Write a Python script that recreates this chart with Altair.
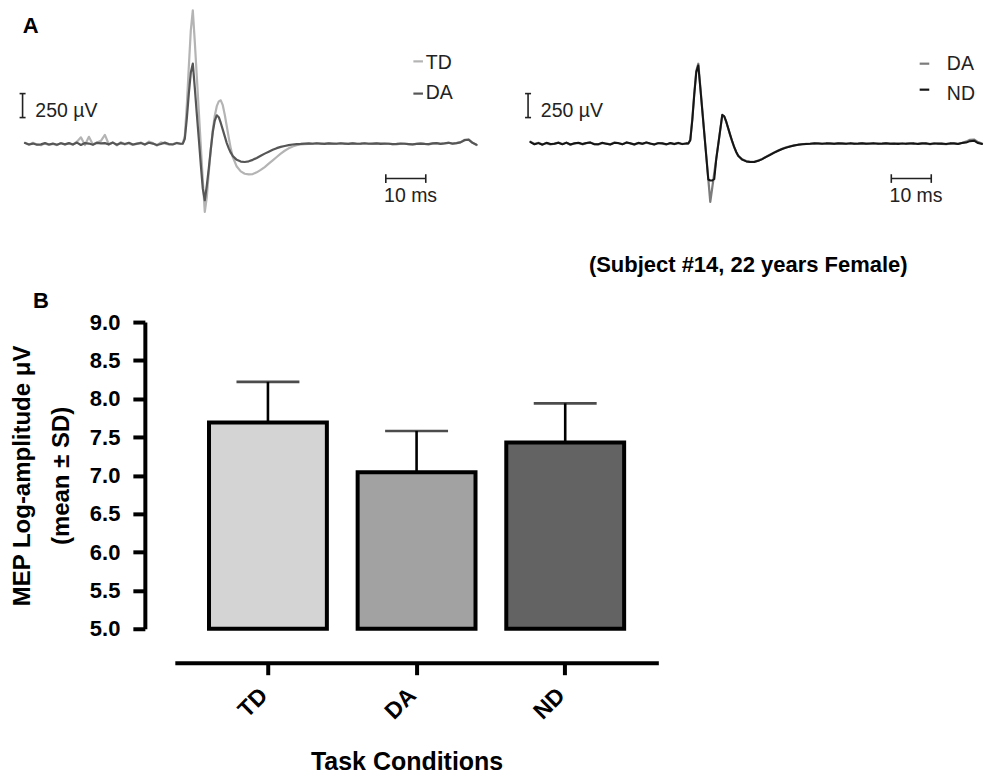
import altair as alt
import pandas as pd

FONT = "Liberation Sans"

# ---------------- Panel A: MEP traces (time in ms, amplitude in µV) ----------------
time_ms = [0, 1, 2, 3, 4, 5, 6, 7, 8, 9, 10, 11, 12, 13, 14, 15, 16, 17, 18, 19,
           20, 21, 22, 23, 24, 25, 26, 27, 28, 29, 30, 31, 32, 33, 34, 35, 36, 37, 38, 39,
           39.5, 40, 40.5, 41, 41.5, 42, 42.5, 43, 43.5, 44, 44.5, 45, 45.5, 46, 46.5,
           47, 47.5, 48, 48.5, 49, 49.5, 50, 50.5, 51, 51.5, 52,
           53, 54, 55, 56, 57, 58, 59, 60, 61, 62, 63, 64, 65, 66, 67, 68, 69, 70, 71, 72,
           73, 74, 75, 76, 77, 78, 79, 80, 81, 82, 83, 84, 85, 86, 87, 88, 89, 90, 91, 92,
           93, 94, 95, 96, 97, 98, 99, 100, 101, 102, 103, 104, 105, 106, 107, 108, 109,
           110, 111, 112, 113]

td_left = [10, -12, 8, -10, -18, 2, -14, -4, -16, 6, -10, 2, -12, 20, 65, -15, 70, -10, 12, 28,
           90, -10, 12, -18, 15, -10, 2, -15, -5, 12, -12, 20, 5, -22, 12, 0, -10, -5, 8, -5,
           0, 80, 400, 800, 1180, 1389, 1060, 700, 340, -20, -380, -713, -560, -300, -60,
           140, 290, 390, 440, 451, 400, 300, 180, 60, -50, -140,
           -240, -290, -315, -322, -318, -300, -275, -245, -210, -175, -140, -105, -75, -50, -30, -18, -10, -5, -3, 0,
           2, -2, 0, 3, -2, 0, 2, -3, 0, 4, 0, -3, 2, 0, -4, 2, 3, -2, 0, -5,
           -8, -2, 0, -6, -10, -4, 2, -3, -8, 0, 5, -4, 3, 10, -2, 5, 15, 40, 45, 10, -15]

da_left = [5, -10, 0, -12, -8, 5, -10, 0, -12, 3, -8, 5, -10, 10, -15, 5, 0, -12, 8, 2,
           5, -8, 10, -12, 5, -5, 8, -10, 0, 5, -10, 8, 0, -15, -5, 10, -5, -10, 5, -2,
           0, 50, 260, 520, 740, 833, 580, 310, 50, -220, -470, -591, -440, -260, -60,
           120, 240, 295, 275, 215, 145, 75, 5, -50, -95, -130,
           -170, -188, -192, -185, -170, -150, -128, -105, -85, -65, -48, -35, -25, -17, -10, -5, -3, 0, 2, -2,
           3, 0, -3, 2, 0, -2, 3, 0, -3, 2, -2, 0, 3, -2, 0, 2, -3, 0, -2, -6,
           -4, 0, -2, -5, -8, -3, 0, -4, -6, 2, 4, -3, 2, 8, 0, 4, 12, 35, 40, 8, -12]

da_right = [20, -5, 8, -10, 5, -8, 0, 10, -5, 8, -12, 0, 6, -8, 4, 12, -5, -10, 5, 0,
            -8, 10, 3, -6, 12, 0, -8, 5, -4, 10, -2, -8, 6, 0, -10, 4, -6, 8, -4, 0,
            0, 40, 255, 525, 760, 833, 593, 353, 112, -128, -368, -608, -458, -307, -156,
            -6, 145, 295, 280, 225, 155, 85, 20, -40, -90, -130,
            -165, -183, -191, -190, -178, -160, -138, -115, -93, -73, -55, -40, -28, -19, -12, -7, -4, -2, 0, 3,
            -2, 0, 2, -3, 0, 2, -2, 3, 0, -3, 2, 0, -2, 3, 0, -4, 2, 0, -3, 2,
            -2, 0, 3, -3, 0, 4, -2, -5, 0, 3, -4, -6, 0, 5, -3, 8, 20, 40, 42, 15, 0]

nd_right = [15, -8, 5, -12, 8, -5, -2, 8, -8, 10, -10, 3, 8, -5, 6, 10, -8, -6, 8, -3,
            -10, 8, 5, -8, 10, 3, -10, 8, -2, 12, 0, -10, 4, 3, -8, 6, -4, 5, -6, 2,
            0, 35, 245, 515, 745, 815, 585, 345, 105, -135, -375, -385, -385, -370, -160,
            -8, 145, 300, 285, 228, 158, 88, 22, -38, -88, -128,
            -168, -186, -193, -192, -180, -162, -140, -117, -95, -75, -57, -42, -30, -20, -13, -8, -5, -2, 2, 0,
            -3, 2, 0, -2, 3, 0, -3, 2, -2, 0, 3, -3, 0, 2, -3, 0, 4, -2, 0, -4,
            2, -3, 0, 2, -5, 0, 3, -4, 2, -3, 0, -5, 2, 0, -4, 5, 10, 25, 30, 5, -5]

for s in (td_left, da_left, da_right, nd_right):
    assert len(s) == len(time_ms)

trace_colors = {"TD": "#b4b4b4", "DA_left": "#565656", "DA_right": "#7c7c7c", "ND": "#151515"}

# scale bars (µV / ms)
amp_bar_uv = [271, 521]      # 250 µV
time_bar_ms = [90.3, 100.3]  # 10 ms

# ---------------- Panel B: MEP log-amplitude ----------------
conditions = ["TD", "DA", "ND"]
mep_mean = [7.69, 7.04, 7.43]
mep_upper = [8.22, 7.58, 7.94]
bar_fill = ["#d4d4d4", "#a2a2a2", "#636363"]
y_ticks = [5.0, 5.5, 6.0, 6.5, 7.0, 7.5, 8.0, 8.5, 9.0]

# ---------------- helpers ----------------
xs = alt.Scale(domain=[-5.5, 113], nice=False, zero=False)
ys = alt.Scale(domain=[-1424, 1493], nice=False, zero=False)
one = pd.DataFrame({"k": [0]})


def X(d):
    return alt.X(datum=d, scale=xs, axis=None)


def Y(d):
    return alt.Y(datum=d, scale=ys, axis=None)


def trace(values, color, width=2.2):
    df = pd.DataFrame({"t": time_ms, "v": values})
    return alt.Chart(df).mark_line(color=color, strokeWidth=width, strokeJoin="round",
                                   strokeCap="round").encode(
        x=alt.X("t:Q", scale=xs, axis=None),
        y=alt.Y("v:Q", scale=ys, axis=None),
    )


def vrule(t, v0, v1, color="#222222", w=1.6):
    return alt.Chart(one).mark_rule(color=color, strokeWidth=w).encode(
        x=X(t), y=Y(v0), y2=alt.Y2(datum=v1))


def hrule(t0, t1, v, color="#222222", w=1.6):
    return alt.Chart(one).mark_rule(color=color, strokeWidth=w).encode(
        x=X(t0), x2=alt.X2(datum=t1), y=Y(v))


def label(t, v, text, size=19.5, align="left", weight="normal", color="#222222"):
    return alt.Chart(one).mark_text(text=text, font=FONT, fontSize=size, align=align,
                                    baseline="alphabetic", fontWeight=weight,
                                    color=color).encode(x=X(t), y=Y(v))


def scale_bars():
    return [
        vrule(-0.6, amp_bar_uv[0], amp_bar_uv[1]),
        hrule(-1.35, 0.15, amp_bar_uv[0]),
        hrule(-1.35, 0.15, amp_bar_uv[1]),
        label(2.6, 280, "250 µV"),
        hrule(time_bar_ms[0], time_bar_ms[1], -365),
        vrule(time_bar_ms[0], -320, -410),
        vrule(time_bar_ms[1], -320, -410),
        label(96.5, -608, "10 ms", align="center"),
    ]


left = alt.layer(
    trace(td_left, trace_colors["TD"]),
    trace(da_left, trace_colors["DA_left"]),
    *scale_bars(),
    hrule(97.2, 99.6, 857, color=trace_colors["TD"], w=2.2),
    label(100.3, 781, "TD"),
    hrule(97.2, 99.6, 521, color=trace_colors["DA_left"], w=2.2),
    label(100.3, 461, "DA"),
    label(1.4, 1150, "A", size=22, align="center", weight="bold", color="black"),
).properties(width=474, height=280)

right = alt.layer(
    trace(da_right, trace_colors["DA_right"]),
    trace(nd_right, trace_colors["ND"], width=2.0),
    *scale_bars(),
    hrule(97.4, 99.8, 833, color=trace_colors["DA_right"], w=2.2),
    label(104.2, 763, "DA"),
    hrule(97.4, 99.8, 562, color=trace_colors["ND"], w=2.2),
    label(104.2, 451, "ND"),
    label(54.5, -1340, "(Subject #14, 22 years Female)", size=22, align="center",
          weight="bold", color="black"),
).properties(width=474, height=280)

spacer = alt.Chart(one).mark_point(opacity=0).encode(
    x=alt.value(0), y=alt.value(0)).properties(width=140, height=307)

bar_df = pd.DataFrame({"cond": conditions, "mean": mep_mean, "upper": mep_upper})

x_axis = alt.Axis(offset=34, domainColor="black", domainWidth=4, tickColor="black",
                  tickWidth=4, tickSize=12, labelAngle=-45, labelAlign="right",
                  labelBaseline="middle", labelPadding=17, labelOffset=-4, labelFont=FONT,
                  labelFontSize=23, labelFontWeight="bold", labelColor="black",
                  title="Task Conditions", titleFont=FONT, titleFontSize=25,
                  titleFontWeight="bold", titleColor="black", titlePadding=26, titleX=232)
y_axis = alt.Axis(values=y_ticks, format=".1f", offset=30, grid=False, domainColor="black",
                  domainWidth=4, tickColor="black", tickWidth=4, tickSize=12,
                  labelFont=FONT, labelFontSize=22, labelFontWeight="bold",
                  labelColor="black", labelPadding=13,
                  title=["MEP Log-amplitude  μV", "(mean ± SD)"], titleFont=FONT,
                  titleFontSize=24, titleFontWeight="bold", titleColor="black",
                  titleLineHeight=39, titlePadding=16)

xb = alt.X("cond:N", sort=conditions,
           scale=alt.Scale(paddingInner=0.207, paddingOuter=0.23), axis=x_axis)
yscale = alt.Scale(domain=[5, 9], nice=False, zero=False)

base = alt.Chart(bar_df)
err = base.mark_rule(color="black", strokeWidth=2.6).encode(
    x=xb, y=alt.Y("mean:Q", scale=yscale, axis=y_axis), y2="upper:Q")
cap = base.mark_tick(color="black", thickness=2.6, size=63).encode(
    x=xb, y=alt.Y("upper:Q", scale=yscale, axis=y_axis))
bars = base.mark_bar(stroke="black", strokeWidth=4).encode(
    x=xb,
    y=alt.Y("mean:Q", scale=yscale, axis=y_axis),
    y2=alt.Y2(datum=5),
    color=alt.Color("cond:N", scale=alt.Scale(domain=conditions, range=bar_fill), legend=None),
)

bar_chart = alt.layer(err, cap, bars).properties(
    width=484, height=307,
    title=alt.TitleParams(text="B", anchor="start", frame="group", font=FONT, fontSize=22,
                          fontWeight="bold", color="black", dx=-142, dy=2, offset=0),
)

top_row = alt.hconcat(left, right, spacing=32, bounds="flush")
bottom_row = alt.hconcat(spacer, bar_chart, spacing=32, bounds="flush")

chart = alt.vconcat(top_row, bottom_row, spacing=10, bounds="full").properties(
    padding=0, background="white").configure_view(stroke=None)

chart.save("out.html", embed_options={"renderer": "svg", "actions": False})
